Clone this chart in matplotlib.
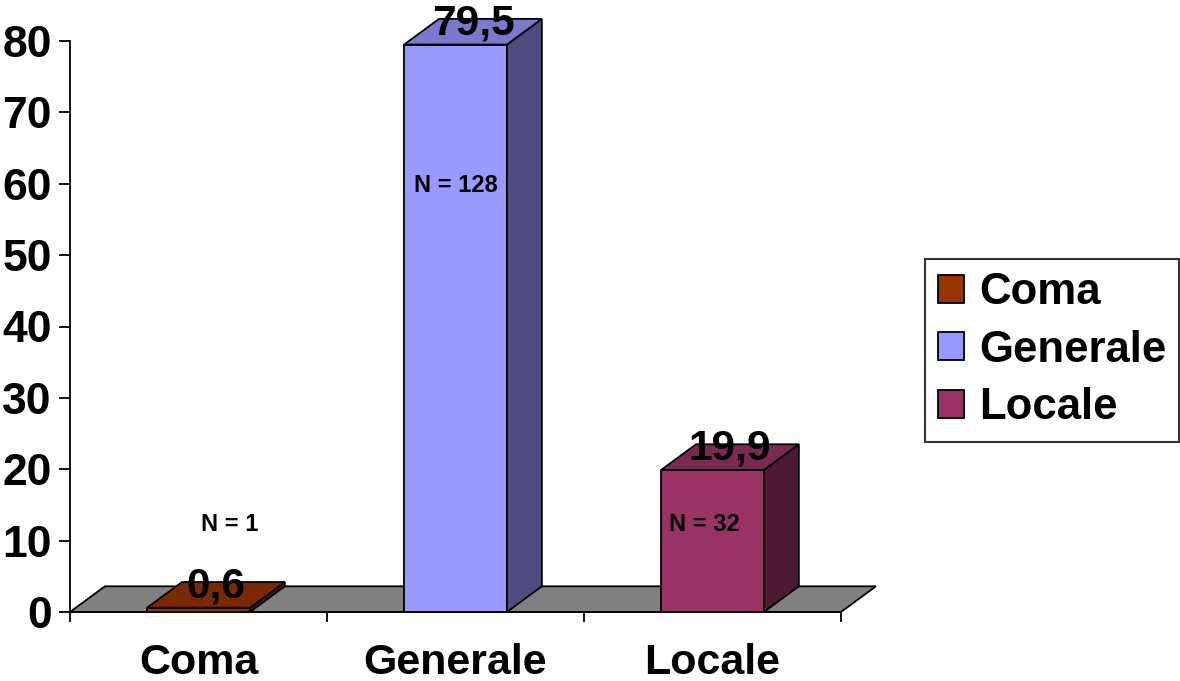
import matplotlib.pyplot as plt
from matplotlib.patches import Polygon, Rectangle

plt.rcParams['font.family'] = ['Liberation Sans', 'DejaVu Sans']
plt.rcParams['font.weight'] = 'bold'

categories = ['Coma', 'Generale', 'Locale']
values = [0.6, 79.5, 19.9]
n_counts = [1, 128, 32]
value_labels = ['0,6', '79,5', '19,9']

front_colors = ['#993300', '#9999ff', '#993366']
top_colors = ['#7a2900', '#7a7acc', '#7a2952']
side_colors = ['#4d1a00', '#4d4d80', '#4d1a33']

# where the "N = ..." notes sit (x offset from category, y in value units)
n_pos = [(0.12, 12.2), (0.0, 59.7), (-0.03, 12.2)]

# fake 3d depth, in data units
dx, dy = 0.136, 3.6
bar_w = 0.4

fig = plt.figure(figsize=(11.8, 6.81), dpi=100)
ax = fig.add_axes([70 / 1180, 69 / 681, 771 / 1180, 571 / 681])

x = list(range(len(categories)))

# grey floor
floor = Polygon([(-0.5, 0), (2.5, 0), (2.5 + dx, dy), (-0.5 + dx, dy)],
                closed=True, facecolor='#808080', edgecolor='black',
                linewidth=1.3, zorder=1, clip_on=False)
ax.add_patch(floor)

ax.bar(x, values, width=bar_w, color=front_colors, edgecolor='black',
       linewidth=1.3, zorder=3, clip_on=False)

for xi, h, tc, sc in zip(x, values, top_colors, side_colors):
    x0, x1 = xi - bar_w / 2, xi + bar_w / 2
    side = Polygon([(x1, 0), (x1 + dx, dy), (x1 + dx, h + dy), (x1, h)],
                   closed=True, facecolor=sc, edgecolor='black',
                   linewidth=1.3, zorder=3, clip_on=False)
    top = Polygon([(x0, h), (x1, h), (x1 + dx, h + dy), (x0 + dx, h + dy)],
                  closed=True, facecolor=tc, edgecolor='black',
                  linewidth=1.3, zorder=3, clip_on=False)
    ax.add_patch(side)
    ax.add_patch(top)

for xi, h, lab in zip(x, values, value_labels):
    ax.text(xi + dx / 2, h + 1.45, lab, ha='center', va='baseline',
            fontsize=30.5, fontweight='bold', zorder=5, clip_on=False)

for xi, n, (ox, oy) in zip(x, n_counts, n_pos):
    ax.text(xi + ox, oy, f'N = {n}', ha='center', va='center',
            fontsize=17, fontweight='bold', zorder=5)

ax.set_xlim(-0.5, 2.5)
ax.set_ylim(0, 80)
ax.set_yticks(range(0, 81, 10))
ax.set_xticks(x)
ax.set_xticklabels(categories)
ax.set_xticks([-0.5, 0.5, 1.5, 2.5], minor=True)

ax.tick_params(axis='y', direction='out', length=8, width=1.3, pad=5,
               labelsize=32)
ax.tick_params(axis='x', which='major', length=0, pad=22, labelsize=31)
ax.tick_params(axis='x', which='minor', direction='out', length=7, width=1.3)
for lab in ax.get_xticklabels() + ax.get_yticklabels():
    lab.set_fontweight('bold')

for s in ['top', 'right']:
    ax.spines[s].set_visible(False)
ax.spines['left'].set_linewidth(1.3)
ax.spines['bottom'].set_linewidth(1.3)
ax.patch.set_alpha(0)

handles = [Rectangle((0, 0), 1, 1, facecolor=c, edgecolor='black', linewidth=1.3)
           for c in front_colors]
leg = fig.legend(handles, categories, loc='upper left',
                 bbox_to_anchor=(925 / 1180, 1 - 259 / 681),
                 fontsize=31.5, frameon=True, fancybox=False,
                 handlelength=0.6, handleheight=0.6, handletextpad=0.33,
                 labelspacing=0.38, borderpad=0.3, borderaxespad=0)
leg.get_frame().set_edgecolor('black')
leg.get_frame().set_linewidth(1.5)
for t in leg.get_texts():
    t.set_fontweight('bold')

fig.savefig('out.png', dpi=100)
